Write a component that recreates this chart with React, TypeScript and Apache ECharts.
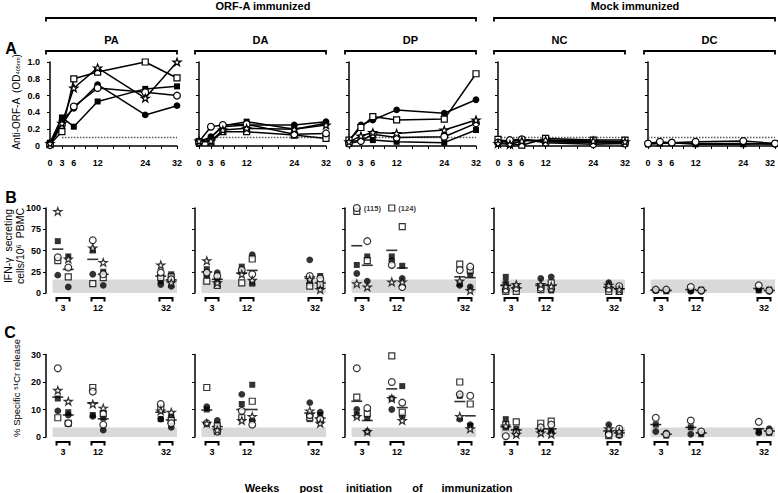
import React, { useEffect, useRef } from "react";
import * as echarts from "echarts";

const FONT = "'Liberation Sans', Arial, Helvetica, sans-serif";

// ---------- categories ----------
const GROUPS = ["PA", "DA", "DP", "NC", "DC"];
const WEEKS = [0, 3, 6, 12, 24, 32];
const WEEK_TICKS = [0, 3, 6, 9, 12, 16, 20, 24, 28, 32];
const STIM_WEEKS = ["3", "12", "32"];
const ANIMALS = ["filledSquare", "filledCircle", "openSquare", "openCircle", "openStar"];
const DC_ANIMALS = ["filledSquare", "filledCircle", "openCircle"];

// ---------- Panel A: anti-ORF-A (OD405nm); rows = animals, cols = WEEKS ----------
const antibodyPA = [
  [0.04, 0.34, 0.23, 0.53, 0.68, 0.71],
  [0.02, 0.30, 0.45, 0.73, 0.37, 0.48],
  [0.02, 0.17, 0.80, 0.88, 1.00, 0.81],
  [0.01, 0.25, 0.47, 0.69, 0.64, 0.60],
  [0.03, 0.27, 0.69, 0.93, 0.57, 1.00],
];
const antibodyDA = [
  [0.06, 0.10, 0.24, 0.29, 0.20, 0.27],
  [0.04, 0.11, 0.23, 0.25, 0.25, 0.29],
  [0.05, 0.05, 0.17, 0.17, 0.13, 0.09],
  [0.05, 0.23, 0.25, 0.26, 0.14, 0.15],
  [0.06, 0.06, 0.19, 0.21, 0.20, 0.25],
];
const antibodyDP = [
  [0.05, 0.07, 0.07, 0.05, 0.04, 0.19],
  [0.06, 0.25, 0.31, 0.43, 0.39, 0.55],
  [0.07, 0.22, 0.35, 0.31, 0.32, 0.86],
  [0.03, 0.06, 0.14, 0.10, 0.11, 0.27],
  [0.05, 0.12, 0.16, 0.15, 0.19, 0.31],
];
const antibodyNC = [
  [0.07, 0.06, 0.08, 0.05, 0.04, 0.03],
  [0.05, 0.05, 0.07, 0.06, 0.05, 0.04],
  [0.08, 0.03, 0.01, 0.09, 0.07, 0.07],
  [0.04, 0.07, 0.08, 0.04, 0.02, 0.03],
  [0.03, 0.02, 0.06, 0.07, 0.06, 0.05],
];
const antibodyDC = [
  [0.02, 0.03, 0.04, 0.02, 0.02, 0.03],
  [0.03, 0.04, 0.04, 0.03, 0.03, 0.02],
  [0.03, 0.05, 0.04, 0.05, 0.06, 0.03],
];
const ANTIBODY_CUTOFF = 0.1;

// ---------- Panel B: IFN-γ secreting cells/10^6 PBMC ----------
// cols = [wk3 left, wk3 right, wk12 left, wk12 right, wk32 left, wk32 right]
const ifnPA = [
  [61, 43, 50, 25, 14, 22],
  [21, 7, 22, 9, 10, 8],
  [38, 19, 11, 18, 18, 19],
  [42, 30, 62, 22, 24, 16],
  [96, 40, 53, 36, 33, 12],
];
const ifnDA = [
  [28, 16, 31, 11, 12, 20],
  [20, 24, 25, 45, 39, 8],
  [14, 9, 12, 40, 8, 10],
  [24, 20, 27, 22, 20, 17],
  [38, 12, 22, 15, 16, 4],
];
const ifnDP = [
  [33, 43, 43, 32, 11, 22],
  [23, 14, 38, 17, 9, 7],
  [96, 38, 124, 78, 34, 27],
  [115, 61, 33, 7, 27, 31],
  [11, 7, 13, 13, 14, 3],
];
const ifnNC = [
  [19, 8, 8, 3, 6, 5],
  [12, 4, 17, 19, 12, 6],
  [2, 2, 4, 12, 2, 2],
  [4, 6, 6, 5, 5, 8],
  [8, 10, 10, 8, 9, 4],
];
const ifnDC = [
  [3, 2, 3, 4, 3, 4],
  [3, 3, 2, 2, 4, 2],
  [4, 4, 7, 3, 9, 3],
];
const IFN_BACKGROUND = 16;
const IFN_AXIS_MAX = 100;

// ---------- Panel C: % specific 51Cr release ----------
const ctlPA = [
  [14, 9, 8, 7, 6.5, 7.5],
  [9.5, 8, 7.5, 2.5, 6.5, 3.5],
  [7, 5, 18, 8.5, 10.5, 6],
  [25, 5, 16.5, 4.5, 12, 5],
  [17, 13, 12, 10.5, 9.5, 9],
];
const ctlDA = [
  [10, 4.5, 12, 19, 6.5, 8],
  [11, 6, 15.5, 6, 12.5, 9],
  [18, 4, 7, 13, 7, 6],
  [5, 2, 9.5, 4.5, 8, 6.5],
  [5, 2.5, 6, 7.5, 9.5, 5],
];
const ctlDP = [
  [8, 7, 14, 18.5, 15, 4],
  [10, 2, 10, 7.5, 6.5, 4.5],
  [14.5, 8.5, 29.5, 9, 20, 12],
  [25, 10.5, 20, 12.5, 15.5, 15],
  [7.5, 2, 14, 6, 7.5, 3],
];
const ctlNC = [
  [6.5, 3, 3, 2, 2, 1],
  [3.5, 2, 2, 1.5, 4.5, 0.5],
  [4.5, 5.5, 5, 5.8, 0.5, 1],
  [0.3, 1.5, 3.5, 4.5, 1, 3],
  [4, 1, 1.5, 1, 3, 2],
];
const ctlDC = [
  [4.5, 0.5, 3.5, 1, 2, 1.5],
  [2, 1.5, 1, 1.5, 1.5, 3],
  [7, 1, 6, 2, 5.5, 2],
];
const CTL_BACKGROUND = 3.5;

const ANTIBODY = [antibodyPA, antibodyDA, antibodyDP, antibodyNC, antibodyDC];
const IFN = [ifnPA, ifnDA, ifnDP, ifnNC, ifnDC];
const CTL = [ctlPA, ctlDA, ctlDP, ctlNC, ctlDC];
const IS_MOCK = [false, false, false, true, true];

// ---------- layout ----------
const A_LEFT = [50, 199, 349, 498, 648];
const A_WIDTH = 127;
const BC_LEFT = [46, 195, 345, 494, 644];
const BC_WIDTH = 131;
const GROUP_POS = [0.13, 0.397, 0.916];
const COL_OFF = 0.04;

const STAR =
  "path://M50,2 L61.8,36.2 L97.6,36.2 L68.6,57.4 L79.4,91.6 L50,70.4 L20.6,91.6 L31.4,57.4 L2.4,36.2 L38.2,36.2 Z";

function symbolFor(animal: string) {
  const open = { color: "#fff", borderColor: "#000", borderWidth: 1.2 };
  const filled = { color: "#000", borderColor: "#000", borderWidth: 0 };
  switch (animal) {
    case "filledSquare":
      return { symbol: "rect", symbolSize: 6, itemStyle: filled };
      case "filledCircle":
      return { symbol: "circle", symbolSize: 6.8, itemStyle: filled };
    case "openSquare":
      return { symbol: "rect", symbolSize: 6, itemStyle: open };
    case "openCircle":
      return { symbol: "circle", symbolSize: 6.8, itemStyle: open };
    default:
      return { symbol: STAR, symbolSize: 8, symbolKeepAspect: true, itemStyle: open };
  }
}

const colX = (i: number) => GROUP_POS[Math.floor(i / 2)] + (i % 2 === 0 ? -COL_OFF : COL_OFF);

const tickLabel = { color: "#000", fontSize: 9, fontWeight: "bold", fontFamily: FONT };
const blackLine = { color: "#000", width: 1.5 };

function buildOption() {
  const grid: any[] = [];
  const xAxis: any[] = [];
  const yAxis: any[] = [];
  const series: any[] = [];

  GROUPS.forEach((g, c) => {
    const animals = g === "DC" ? DC_ANIMALS : ANIMALS;
    const last = c === GROUPS.length - 1;

    // ----- Panel A -----
    let gi = grid.length;
    grid.push({ left: A_LEFT[c], top: 62, width: A_WIDTH, height: 84, outerBoundsMode: "none" });
    xAxis.push({
      type: "value", gridIndex: gi, min: 0, max: 32, offset: 6,
      axisLine: { show: true, lineStyle: blackLine },
      axisTick: { show: true, customValues: WEEK_TICKS, length: 3, lineStyle: { color: "#000", width: 1 } },
      axisLabel: { customValues: WEEKS, margin: 6, alignMaxLabel: last ? "right" : undefined, ...tickLabel },
      splitLine: { show: false },
    });
    yAxis.push({
      type: "value", gridIndex: gi, min: 0, max: 1, interval: 0.2, offset: 4,
      axisLine: { show: true, lineStyle: blackLine },
      axisTick: { show: true, length: 3, lineStyle: { color: "#000", width: 1 } },
      axisLabel: { show: c === 0, margin: 6, formatter: (v: number) => (v === 0 ? "0" : v.toFixed(1)), ...tickLabel },
      splitLine: { show: false },
    });
    series.push({
      type: "line", xAxisIndex: gi, yAxisIndex: gi, silent: true, z: 1, symbol: "none",
      data: [[IS_MOCK[c] ? 0 : 3, ANTIBODY_CUTOFF], [32, ANTIBODY_CUTOFF]],
      lineStyle: { type: "dotted", color: "#555", width: 1.5 },
    });
    ANTIBODY[c].forEach((row, a) => {
      series.push({
        type: "line", xAxisIndex: gi, yAxisIndex: gi, z: 3, silent: true,
        data: WEEKS.map((w, i) => [w, row[i]]),
        lineStyle: { color: "#000", width: 1.5 },
        ...symbolFor(animals[a]),
      });
    });

    // ----- Panels B and C -----
    [
      { data: IFN[c], top: 208, height: 85, max: IFN_AXIS_MAX, interval: 25, band: IFN_BACKGROUND, cap: true },
      { data: CTL[c], top: 354.5, height: 82.5, max: 30, interval: 10, band: CTL_BACKGROUND, cap: false },
    ].forEach((p) => {
      gi = grid.length;
      grid.push({ left: BC_LEFT[c], top: p.top, width: BC_WIDTH, height: p.height, outerBoundsMode: "none" });
      xAxis.push({
        type: "value", gridIndex: gi, min: 0, max: 1,
        axisLine: { show: false }, axisTick: { show: false }, splitLine: { show: false },
        axisLabel: {
          customValues: GROUP_POS, margin: 10, ...tickLabel,
          formatter: (v: number) => {
            const k = GROUP_POS.findIndex((q) => Math.abs(q - v) < 1e-6);
            return k >= 0 ? STIM_WEEKS[k] : "";
          },
        },
      });
      yAxis.push({
        type: "value", gridIndex: gi, min: 0, max: p.max, interval: p.interval,
        axisLine: { show: true, lineStyle: blackLine },
        axisTick: { show: true, length: 3, lineStyle: { color: "#000", width: 1 } },
        axisLabel: { show: c === 0, margin: 5, ...tickLabel },
        splitLine: { show: false },
      });
      // grey background band
      series.push({
        type: "custom", xAxisIndex: gi, yAxisIndex: gi, silent: true, z: 1, clip: false,
        data: [[0, p.band]],
        renderItem: (_params: any, api: any) => {
          const p0 = api.coord([0.05, 0]);
          const p1 = api.coord([1.0, api.value(1)]);
          return {
            type: "rect",
            shape: { x: p0[0], y: p1[1], width: p1[0] - p0[0], height: p0[1] - p1[1] },
            style: { fill: "#d9d9d9" },
          };
        },
      });
      // brackets under each week pair
      series.push({
        type: "custom", xAxisIndex: gi, yAxisIndex: gi, silent: true, z: 1, clip: false,
        data: GROUP_POS.map((q) => [q, 0]),
        renderItem: (_params: any, api: any) => {
          const pt = api.coord([api.value(0), 0]);
          const x0 = pt[0] - 6.5, x1 = pt[0] + 6.5, y = pt[1] + 5;
          return {
            type: "polyline",
            shape: { points: [[x0, y + 3.5], [x0, y], [x1, y], [x1, y + 3.5]] },
            style: { stroke: "#000", lineWidth: 2, fill: "none" },
          };
        },
      });
      // mean lines
      const means = p.data[0].map((_v: number, i: number) =>
        p.data.reduce((s: number, r: number[]) => s + r[i], 0) / p.data.length);
      series.push({
        type: "scatter", xAxisIndex: gi, yAxisIndex: gi, silent: true, z: 2,
        symbol: "rect", symbolSize: [11, 1.6], itemStyle: { color: "#000" },
        data: means.map((m: number, i: number) => [colX(i), m]),
      });
      // animals
      p.data.forEach((row: number[], a: number) => {
        series.push({
          type: "scatter", xAxisIndex: gi, yAxisIndex: gi, silent: true, z: 3,
          ...symbolFor(animals[a]),
          data: row.map((v, i) => {
            if (p.cap && v > p.max) {
              return {
                value: [colX(i), p.max],
                label: {
                  show: true, position: "right", distance: 3, formatter: `(${v})`,
                  color: "#000", fontSize: 7.5, fontWeight: "bold", fontFamily: FONT,
                },
              };
            }
            return [colX(i), v];
          }),
        });
      });
    });
  });

  // ---------- decorations & texts ----------
  const graphic: any[] = [];
  const text = (t: string, x: number, y: number, size: number, bold = true, extra: any = {}) => ({
    type: "text", x, y, silent: true, ...extra,
    style: {
      text: t, fill: "#000", fontSize: size, fontWeight: bold ? "bold" : "normal", fontFamily: FONT,
      textAlign: "center", textVerticalAlign: "middle", ...(extra.style || {}),
    },
  });
  const bracket = (x0: number, x1: number, y: number) => ({
    type: "polyline", silent: true,
    shape: { points: [[x0, y + 3.5], [x0, y], [x1, y], [x1, y + 3.5]] },
    style: { stroke: "#000", lineWidth: 1.8, fill: "none" },
  });

  graphic.push(text("ORF-A immunized", 263, 6, 11));
  graphic.push(text("Mock immunized", 635, 6, 11));
  graphic.push(bracket(BC_LEFT[0], A_LEFT[2] + A_WIDTH, 18));
  graphic.push(bracket(BC_LEFT[3], A_LEFT[4] + A_WIDTH, 18));
  GROUPS.forEach((g, c) => {
    const x0 = BC_LEFT[c];
    const x1 = A_LEFT[c] + A_WIDTH;
    graphic.push(text(g, (x0 + x1) / 2, 40, 11));
    graphic.push(bracket(x0, x1, 51));
  });
  graphic.push(text("A", 11, 48, 16));
  graphic.push(text("B", 11, 197, 16));
  graphic.push(text("C", 10, 332, 16));

  graphic.push({
    type: "text", x: 15, y: 102, rotation: Math.PI / 2, silent: true,
    style: {
      text: "{m|Anti-ORF-A  (OD}{s|405nm}{m|)}",
      textAlign: "center", textVerticalAlign: "middle", fill: "#000",
      rich: {
        m: { fontSize: 10, fontFamily: FONT, fill: "#000", verticalAlign: "bottom", lineHeight: 12 },
        s: { fontSize: 5.5, fontFamily: FONT, fill: "#000", verticalAlign: "bottom", lineHeight: 10 },
      },
    },
  });
  graphic.push(text("IFN-γ  secreting", 8, 246, 10.5, false, { rotation: Math.PI / 2 }));
  graphic.push(text("cells/10⁶  PBMC", 20, 246, 10.5, false, { rotation: Math.PI / 2 }));
  graphic.push(text("% Specific ⁵¹Cr release", 16, 388, 9.5, false, { rotation: Math.PI / 2 }));

  const words = [["Weeks", 262], ["post", 311], ["initiation", 369], ["of", 417.5], ["immunization", 477]];
  words.forEach(([w, x]) => graphic.push(text(w as string, x as number, 488, 11)));

  return {
    animation: false,
    backgroundColor: "#fff",
    textStyle: { fontFamily: FONT },
    grid, xAxis, yAxis, series, graphic,
  };
}

export default function App() {
  const ref = useRef<HTMLDivElement>(null);
  useEffect(() => {
    if (!ref.current) return;
    const chart = echarts.init(ref.current, undefined, { renderer: "svg" });
    chart.setOption(buildOption() as any);
    return () => chart.dispose();
  }, []);
  return (
    <div
      ref={ref}
      style={{ position: "fixed", left: 0, top: 0, width: 778, height: 493, background: "#fff" }}
    />
  );
}
